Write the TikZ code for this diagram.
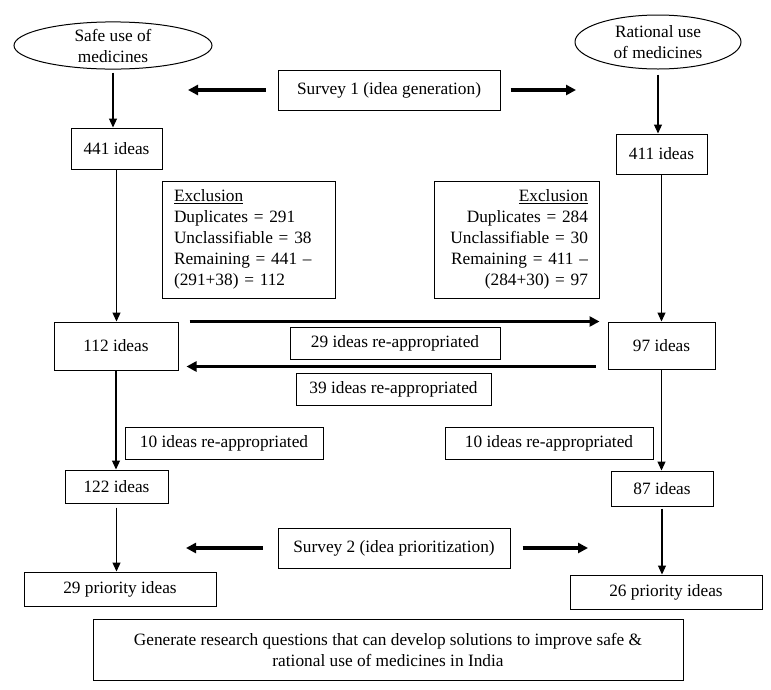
\documentclass[tikz,border=0pt]{standalone}
\usepackage{fontspec}
\setmainfont{Liberation Serif}
\usetikzlibrary{arrows.meta, shapes.geometric}

\begin{document}
\begin{tikzpicture}[x=1pt,y=-1pt,>={Triangle[length=9pt,width=8pt]},
        every node/.style={font=\fontsize{17.3}{21}\selectfont},
        box/.style={draw,line width=1pt,inner sep=0pt,align=center},
        topic/.style={draw,ellipse,line width=1pt,inner sep=0pt,align=center},
        excl/.style={draw,line width=1pt,inner ysep=5pt,minimum height=117pt},
        flow/.style={->,line width=1.2pt},
        bigarrow/.style={line width=3.5pt,-{Triangle[length=10pt,width=10pt]}}]

      \useasboundingbox (0,0) rectangle (771,689);

      \node[topic,minimum width=198,minimum height=47] (safe)     at (113,45.5)  {Safe use of\\medicines};
      \node[topic,minimum width=166,minimum height=54] (rational) at (658,42)    {Rational use\\of medicines};
      \node[box,minimum width=222,minimum height=40]   (survey1)  at (389,90)    {Survey 1 (idea generation)};
      \coordinate (s1left)  at (188,90);
      \coordinate (s1right) at (576,90);

      \node[box,minimum width=91,minimum height=41]  (ideasL1) at (116.5,148.5) {441 ideas};
      \node[box,minimum width=91,minimum height=40]  (ideasR1) at (661.5,154)   {411 ideas};

      \node[excl,text width=149pt,inner xsep=12pt,align=left]  (exclL) at (248.5,239.5)
        {\underline{Exclusion}\\Duplicates = 291\\Unclassifiable = 38\\Remaining = 441 --\\(291+38) = 112};
      \node[excl,text width=143pt,inner xsep=11pt,align=right] (exclR) at (516.5,239.5)
        {\underline{Exclusion}\\Duplicates = 284\\Unclassifiable = 30\\Remaining = 411 --\\(284+30) = 97};

      \node[box,minimum width=124,minimum height=48] (ideasL2) at (116,346)     {112 ideas};
      \node[box,minimum width=107,minimum height=47] (ideasR2) at (661.5,345.5) {97 ideas};
      \node[box,minimum width=210,minimum height=32] (moveLR)  at (395,343)     {29 ideas re-appropriated};
      \node[box,minimum width=195,minimum height=32] (moveRL)  at (393.5,389)   {39 ideas re-appropriated};
      \node[box,minimum width=198,minimum height=32] (backL)   at (224,443)     {10 ideas re-appropriated};
      \node[box,minimum width=208,minimum height=32] (backR)   at (549,443)     {10 ideas re-appropriated};

      \node[box,minimum width=103,minimum height=33] (ideasL3) at (116.5,486.5) {122 ideas};
      \node[box,minimum width=102,minimum height=35] (ideasR3) at (662,488.5)   {87 ideas};
      \node[box,minimum width=232,minimum height=40] (survey2) at (394,548)     {Survey 2 (idea prioritization)};
      \coordinate (s2left)  at (186,548);
      \coordinate (s2right) at (588,548);

      \node[box,minimum width=192,minimum height=34] (prioL) at (120,589) {29 priority ideas};
      \node[box,minimum width=192,minimum height=34] (prioR) at (666,592) {26 priority ideas};
      \node[box,minimum width=590,minimum height=61] (goal)  at (388,649.5)
        {Generate research questions that can develop solutions to improve safe \&\\rational use of medicines in India};

      \draw[bigarrow,shorten <=12pt] (survey1.west) -- (s1left);
      \draw[bigarrow,shorten <=10pt] (survey1.east) -- (s1right);
      \draw[bigarrow,shorten <=15pt] (survey2.west) -- (s2left);
      \draw[bigarrow,shorten <=12pt] (survey2.east) -- (s2right);
      \draw[bigarrow,shorten <=11pt,shorten >=8pt] (ideasL2.north east) -- (ideasR2.north west);
      \draw[bigarrow,shorten <=12pt,shorten >=8pt] ([yshift=3pt]ideasR2.south west) -- ([yshift=3pt]ideasR2.south west -| ideasL2.east);

      \draw[flow,shorten <=3pt] (safe.south) -- (safe.south |- ideasL1.north);
      \draw[flow,shorten <=5pt] (rational.south) -- (rational.south |- ideasR1.north);
      \draw[flow] (ideasL1.south) -- (ideasL1.south |- ideasL2.north);
      \draw[flow] (ideasR1.south) -- (ideasR1.south |- ideasR2.north);
      \draw[flow] (ideasL2.south) -- (ideasL2.south |- ideasL3.north);
      \draw[flow] (ideasR2.south) -- (ideasR2.south |- ideasR3.north);
      \draw[flow,shorten <=4pt] (ideasL3.south) -- (ideasL3.south |- prioL.north);
      \draw[flow,shorten <=2pt] (ideasR3.south) -- (ideasR3.south |- prioR.north);
    \end{tikzpicture}
\end{document}
